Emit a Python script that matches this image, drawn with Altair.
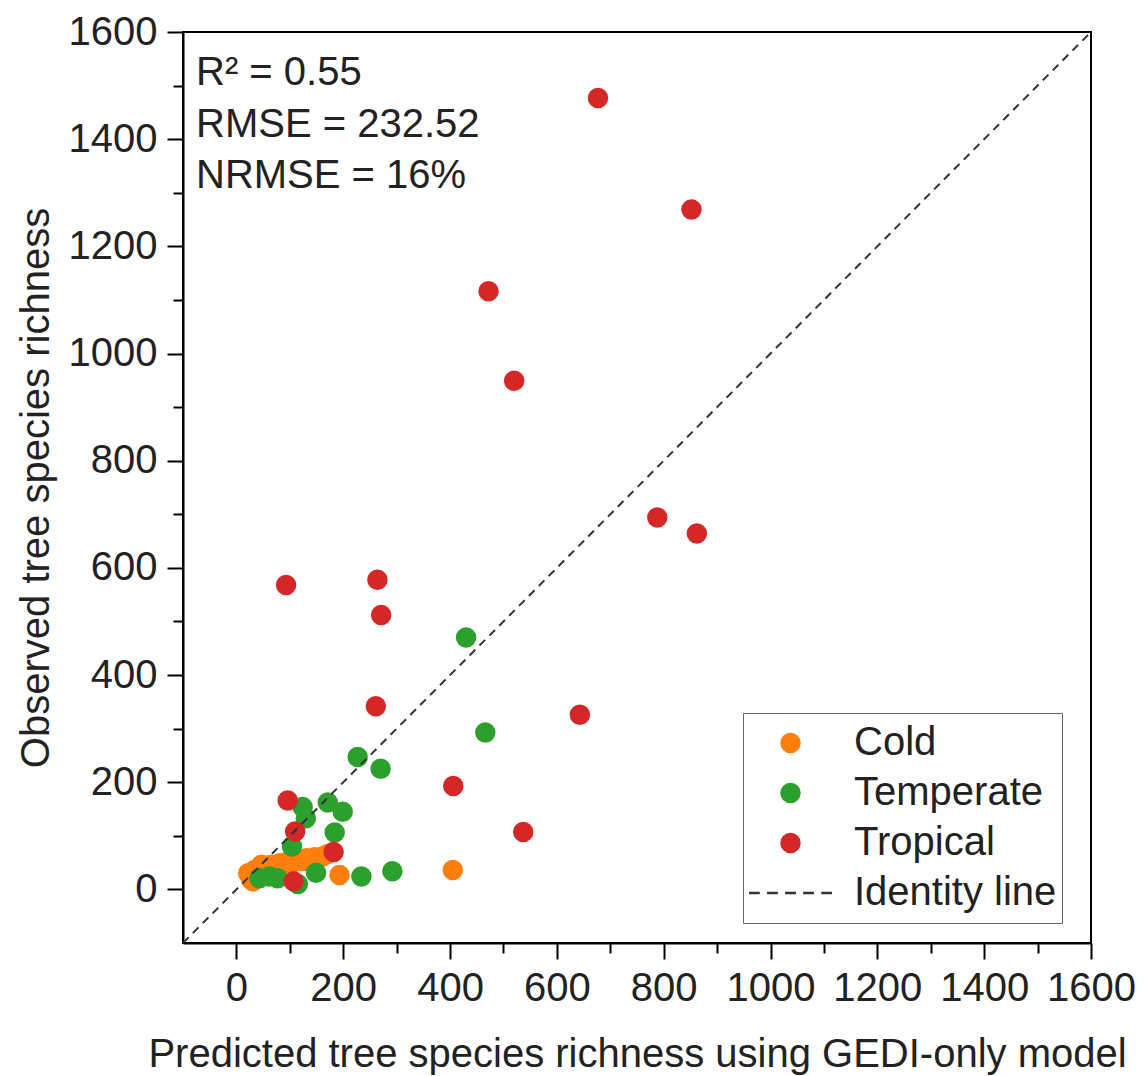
import altair as alt
import pandas as pd

FONT = "Liberation Sans"

legend_entries = ["Cold", "Temperate", "Tropical", "Identity line"]
colors = ["#ff7f0e", "#2ca02c", "#d62728", "#333333"]

cold_x = [405, 193, 22, 28, 31, 34, 40, 47, 55, 65, 72, 81, 88, 96, 105, 115, 124, 131, 140, 146, 155, 162, 171]
cold_y = [36, 27, 30, 18, 15, 36, 30, 46, 40, 46, 43, 49, 47, 52, 50, 55, 53, 58, 56, 60, 59, 62, 66]

temperate_x = [430, 466, 227, 270, 124, 130, 171, 199, 184, 104, 149, 234, 292, 43, 62, 77, 115]
temperate_y = [470, 293, 247, 225, 154, 133, 162, 145, 106, 80, 31, 24, 34, 21, 24, 21, 10]

tropical_x = [677, 852, 472, 520, 788, 862, 93, 264, 271, 261, 643, 406, 537, 96, 110, 182, 107]
tropical_y = [1477, 1269, 1116, 949, 694, 664, 568, 578, 512, 342, 326, 193, 107, 166, 108, 70, 15]

identity_x = [-100, 1600]
identity_y = [-100, 1600]

major_ticks = list(range(0, 1601, 200))
minor_ticks = list(range(100, 1600, 200))
stats_lines = ["R\u00b2 = 0.55", "RMSE = 232.52", "NRMSE = 16%"]

rows = []
for name, xs, ys in [("Cold", cold_x, cold_y), ("Temperate", temperate_x, temperate_y),
                     ("Tropical", tropical_x, tropical_y)]:
    for a, b in zip(xs, ys):
        rows.append({"pred": a, "obs": b, "zone": name})
df = pd.DataFrame(rows)
line_df = pd.DataFrame({"pred": identity_x, "obs": identity_y})

dash_path = ("M-1,-0.03h0.26v0.06h-0.26Z M-0.565,-0.03h0.26v0.06h-0.26Z "
             "M-0.13,-0.03h0.26v0.06h-0.26Z M0.305,-0.03h0.26v0.06h-0.26Z "
             "M0.74,-0.03h0.26v0.06h-0.26Z")
shapes = ["circle", "circle", "circle", dash_path]
sizes = [420, 420, 420, 6889]

xscale = alt.Scale(domain=[-100, 1600], nice=False, zero=False)
yscale = alt.Scale(domain=[-100, 1600], nice=False, zero=False)

common_axis = dict(grid=False, domainColor="black", domainWidth=2, tickColor="black",
                   tickWidth=2, labelFont=FONT, labelFontSize=40, labelColor="#222",
                   titleFont=FONT, titleFontSize=40, titleFontWeight="normal",
                   titleColor="#222", labelFlush=False, labelOverlap=False, format="d")

x_major = alt.Axis(values=major_ticks, tickSize=16, labelPadding=9, titlePadding=26,
                   title="Predicted tree species richness using GEDI-only model",
                   orient="bottom", **common_axis)
y_major = alt.Axis(values=major_ticks, tickSize=16, labelPadding=10, titlePadding=12,
                   title="Observed tree species richness", orient="left", **common_axis)
x_minor = alt.Axis(values=minor_ticks, tickSize=10, labels=False, domain=False,
                   title=None, orient="bottom", grid=False, tickColor="black", tickWidth=2)
y_minor = alt.Axis(values=minor_ticks, tickSize=10, labels=False, domain=False,
                   title=None, orient="left", grid=False, tickColor="black", tickWidth=2)

leg = alt.Legend(title=None, orient="none", legendX=560, legendY=681,
                 labelFont=FONT, labelFontSize=40, labelColor="#222", labelOffset=21,
                 labelLimit=0, clipHeight=50, rowPadding=0, padding=5,
                 strokeColor="#666", fillColor="white")

points = alt.Chart(df).mark_point(filled=True, opacity=1).encode(
    x=alt.X("pred:Q", scale=xscale, axis=x_major),
    y=alt.Y("obs:Q", scale=yscale, axis=y_major),
    color=alt.Color("zone:N", scale=alt.Scale(domain=legend_entries, range=colors), legend=leg),
    shape=alt.Shape("zone:N", scale=alt.Scale(domain=legend_entries, range=shapes), legend=leg),
    size=alt.Size("zone:N", scale=alt.Scale(type="ordinal", domain=legend_entries, range=sizes),
                  legend=leg),
)

line = alt.Chart(line_df).mark_line(color="#333333", strokeWidth=2, strokeDash=[8, 6]).encode(
    x=alt.X("pred:Q", scale=xscale, axis=x_minor),
    y=alt.Y("obs:Q", scale=yscale, axis=y_minor),
)

text = alt.Chart(pd.DataFrame({"k": [0]})).mark_text(
    text=stats_lines, align="left", baseline="alphabetic", font=FONT, fontSize=40,
    lineHeight=51.5, color="#222"
).encode(x=alt.value(13), y=alt.value(53))

chart = alt.layer(points, line, text).resolve_axis(
    x="independent", y="independent"
).properties(
    width=908, height=911,
    autosize=alt.AutoSizeParams(type="none"),
    padding={"left": 183, "top": 32, "right": 54, "bottom": 133},
).configure_view(stroke="black", strokeWidth=2)

chart.save("out.html", embed_options={"renderer": "svg", "actions": False})
